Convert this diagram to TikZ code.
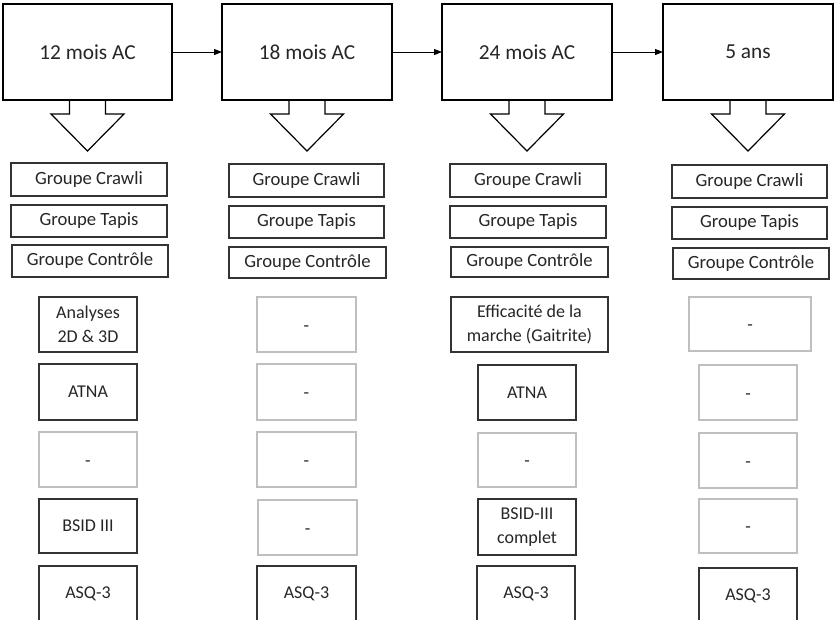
\documentclass[tikz,border=0pt]{standalone}
\usepackage{fontspec}
\setmainfont{Carlito}
\usetikzlibrary{arrows.meta,calc}
\definecolor{txt}{HTML}{262626}
\definecolor{dk}{HTML}{333333}
\definecolor{lt}{HTML}{BFBFBF}
\tikzset{
  callbox/.style={draw=black, line width=0.9pt, inner sep=0pt, outer sep=0pt, text=txt, font=\fontsize{16}{19}\selectfont},
  calline/.style={draw=black, line width=0.9pt, line join=miter},
  grpbox/.style={draw=dk, line width=1.25pt, inner sep=0pt, outer sep=0pt, text=txt, font=\fontsize{14}{17}\selectfont},
  darkbox/.style={draw=dk, line width=1.25pt, inner sep=0pt, outer sep=0pt, text=txt, align=center, font=\fontsize{13.5}{18}\selectfont},
  lightbox/.style={draw=lt, line width=1.25pt, inner sep=0pt, outer sep=0pt, text=txt, text height=10pt, text depth=0pt, font=\fontsize{13.5}{18}\selectfont},
  flow/.style={draw=black, line width=0.75pt, -{Triangle[length=6pt,width=4.5pt]}}
}
\newcommand\bx[7]{\node[#2, minimum width={(#5-#3)*0.75pt}, minimum height={(#6-#4)*0.75pt}] (#1) at ({(#3+#5)/2},{(#4+#6)/2}) {#7};}
\newcommand\callout[4]{%
  \bx{#1}{callbox}{#2}{4}{#3}{100}{#4}
  \draw[calline] (#1.south west) -- ($(#1.south)+(-18,0)$) -- ++(0,14) -- ++(-18.5,0) -- ++(36.5,37) -- ++(36.5,-37) -- ++(-18.5,0) -- ++(0,-14) -- (#1.south east);
}
\begin{document}
\begin{tikzpicture}[x=0.75pt,y=-0.75pt]
\clip (0,0) rectangle (834,619);
\fill[white] (0,0) rectangle (834,619);
% callouts
\callout{c1}{3}{172}{12 mois AC}
\callout{c2}{222}{392}{18 mois AC}
\callout{c3}{442}{612}{24 mois AC}
\callout{c4}{663}{833}{5 ans}
\draw[flow] (c1.east) -- (c2.west);
\draw[flow] (c2.east) -- (c3.west);
\draw[flow] (c3.east) -- (c4.west);
% groups
\bx{g1a}{grpbox}{11}{163}{167}{196}{Groupe Crawli}
\bx{g1b}{grpbox}{11}{205}{167}{237}{Groupe Tapis}
\bx{g1c}{grpbox}{12}{245}{168}{277}{Groupe Contrôle}
\bx{g2a}{grpbox}{229}{164}{384}{197}{Groupe Crawli}
\bx{g2b}{grpbox}{229}{206}{384}{238}{Groupe Tapis}
\bx{g2c}{grpbox}{229}{247}{386}{278}{Groupe Contrôle}
\bx{g3a}{grpbox}{450}{164}{606}{197}{Groupe Crawli}
\bx{g3b}{grpbox}{450}{206}{606}{238}{Groupe Tapis}
\bx{g3c}{grpbox}{451}{247}{608}{277}{Groupe Contrôle}
\bx{g4a}{grpbox}{672}{165}{827}{198}{Groupe Crawli}
\bx{g4b}{grpbox}{672}{207}{827}{239}{Groupe Tapis}
\bx{g4c}{grpbox}{673}{248}{829}{279}{Groupe Contrôle}
% column 1
\bx{m1a}{darkbox}{39}{297}{137}{352}{Analyses\\2D \& 3D}
\bx{m1b}{darkbox}{39}{364}{137}{420}{ATNA}
\bx{m1c}{lightbox}{39}{432}{137}{487}{-}
\bx{m1d}{darkbox}{39}{499}{137}{553}{BSID III}
\bx{m1e}{darkbox}{39}{566}{137}{621}{ASQ-3}
% column 2
\bx{m2a}{lightbox}{257}{297}{356}{352}{-}
\bx{m2b}{lightbox}{257}{364}{356}{420}{-}
\bx{m2c}{lightbox}{257}{432}{356}{487}{-}
\bx{m2d}{lightbox}{258}{500}{357}{555}{-}
\bx{m2e}{darkbox}{257}{566}{356}{621}{ASQ-3}
% column 3
\bx{m3a}{darkbox}{451}{297}{608}{352}{Efficacité de la\\marche (Gaitrite)}
\bx{m3b}{darkbox}{478}{365}{576}{420}{ATNA}
\bx{m3c}{lightbox}{478}{433}{576}{487}{-}
\bx{m3d}{darkbox}{478}{499}{576}{555}{BSID-III\\complet}
\bx{m3e}{darkbox}{477}{566}{575}{621}{ASQ-3}
% column 4
\bx{m4a}{lightbox}{689}{297}{811}{351}{-}
\bx{m4b}{lightbox}{699}{365}{797}{420}{-}
\bx{m4c}{lightbox}{699}{433}{797}{488}{-}
\bx{m4d}{lightbox}{699}{499}{797}{553}{-}
\bx{m4e}{darkbox}{699}{568}{797}{623}{ASQ-3}
\end{tikzpicture}
\end{document}
